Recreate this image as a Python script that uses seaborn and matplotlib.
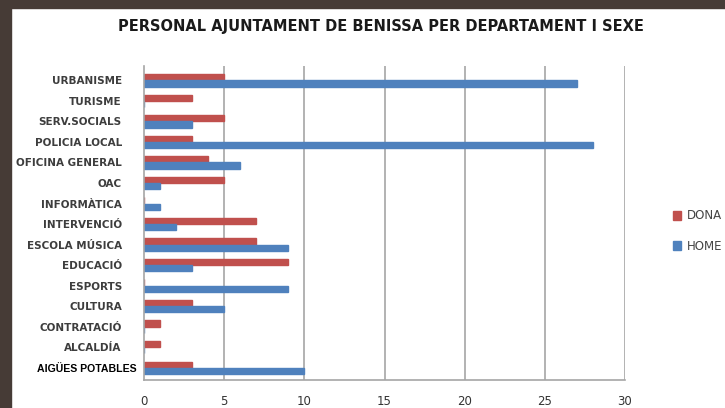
import matplotlib
matplotlib.use("Agg")
import matplotlib.pyplot as plt
import matplotlib.transforms as mtransforms
from matplotlib.patches import Rectangle, Patch
import seaborn as sns
import pandas as pd

departaments = ["URBANISME", "TURISME", "SERV.SOCIALS", "POLICIA LOCAL", "OFICINA GENERAL",
                "OAC", "INFORMÀTICA", "INTERVENCIÓ", "ESCOLA MÚSICA", "EDUCACIÓ",
                "ESPORTS", "CULTURA", "CONTRATACIÓ", "ALCALDÍA", "AIGÜES POTABLES"]
dona = [5, 3, 5, 3, 4, 5, 0, 7, 7, 9, 0, 3, 1, 1, 3]
home = [27, 0, 3, 28, 6, 1, 1, 2, 9, 3, 9, 5, 0, 0, 10]
series = ["DONA", "HOME"]
xticks = [0, 5, 10, 15, 20, 25, 30]
title = "PERSONAL AJUNTAMENT DE BENISSA PER DEPARTAMENT I SEXE"

df = pd.DataFrame({
    "departament": departaments * 2,
    "sexe": [series[0]] * len(departaments) + [series[1]] * len(departaments),
    "valor": dona + home,
})

sns.set_theme(style="white")
plt.rcParams['font.family'] = ['DejaVu Sans']

fig = plt.figure(figsize=(7.25, 4.08), dpi=100)
fig.patch.set_facecolor("white")
# dark frame
fig.patches.append(Rectangle((0, 0), 11/725, 1, transform=fig.transFigure, color="#463b36", zorder=-5))
fig.patches.append(Rectangle((0, 1-8/408), 1, 8/408, transform=fig.transFigure, color="#463b36", zorder=-5))

ax = fig.add_axes([144/725, 1-380/408, (625-144)/725, (380-66)/408])
palette = {"DONA": "#c0504d", "HOME": "#4f81bd"}
sns.barplot(data=df, y="departament", x="valor", hue="sexe", order=departaments,
            hue_order=series, palette=palette, orient="h", width=0.6,
            saturation=1, ax=ax, legend=False, linewidth=1.0)
for p, c in zip(ax.patches, [palette["DONA"]]*15 + [palette["HOME"]]*15):
    p.set_edgecolor(c)

ax.set_xlim(0, 30)
ax.set_ylim(len(departaments) - 0.4, -0.7)
ax.set_xticks(xticks)
ax.set_xticklabels([str(t) for t in xticks], fontsize=8.5, color="#333333")
ax.tick_params(axis="x", length=0, pad=11)
ax.tick_params(axis="y", length=0, pad=16)
ax.set_xlabel("")
ax.set_ylabel("")
for t in xticks[1:]:
    ax.axvline(t, color="#a6a6a6", lw=1.2, zorder=0)
for s in ["top", "right"]:
    ax.spines[s].set_visible(False)
for s in ["left", "bottom"]:
    ax.spines[s].set_color("#a6a6a6")
    ax.spines[s].set_linewidth(1.2)

labels = ax.get_yticklabels()
for lab in labels:
    lab.set_fontsize(7.5)
    lab.set_fontweight("bold")
    lab.set_color("#3d3d3d")
last = labels[-1]
last.set_family(["Liberation Sans", "DejaVu Sans"])
last.set_fontsize(7.6)
last.set_color("black")
last.set_transform(last.get_transform() + mtransforms.ScaledTranslation(15/100, 0, fig.dpi_scale_trans))

fig.text(381/725, 1-27/408, title, ha="center", va="center", fontsize=10.5,
         fontweight="bold", color="#1a1a1a")

handles = [Patch(color=palette[s]) for s in series]
fig.legend(handles, series, loc="center left", bbox_to_anchor=(662/725, 1-231/408),
           frameon=False, fontsize=8.5, handlelength=0.75, handleheight=0.75,
           handletextpad=0.45, labelspacing=1.45, labelcolor="#444444")

fig.savefig("out.png", dpi=100)
